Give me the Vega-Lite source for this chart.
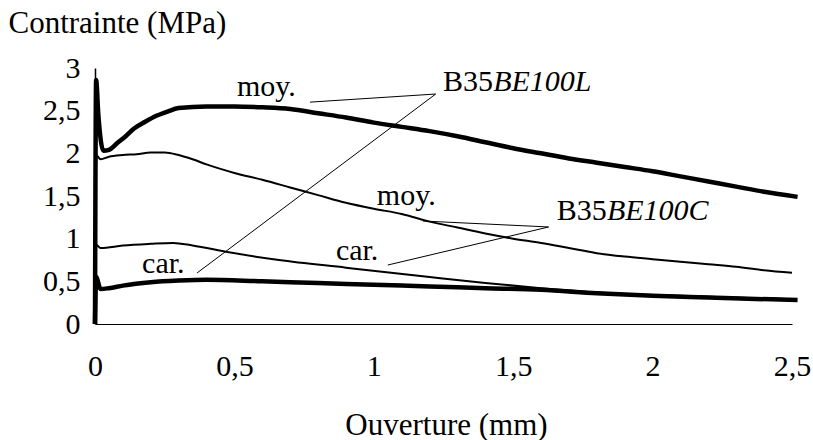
{
  "$schema": "https://vega.github.io/schema/vega-lite/v6.json",
  "width": 697,
  "height": 256,
  "autosize": {"type": "none"},
  "padding": {"left": 95, "top": 68, "right": 21, "bottom": 116},
  "background": "white",
  "config": {
    "font": "'Liberation Serif', 'Times New Roman', serif",
    "view": {"stroke": null},
    "axis": {"grid": false, "ticks": false, "domainColor": "black", "domainWidth": 1.5, "labelColor": "black", "titleColor": "black", "labelFontSize": 30, "titleFontSize": 31, "titleFontWeight": "normal", "labelFont": "'Liberation Serif', 'Times New Roman', serif", "titleFont": "'Liberation Serif', 'Times New Roman', serif"}
  },
  "datasets": {
    "curves": [
      {"serie": "L moy", "x": 0, "y": 0},
      {"serie": "L moy", "x": 0.004, "y": 2.86},
      {"serie": "L moy", "x": 0.012, "y": 2.45},
      {"serie": "L moy", "x": 0.03, "y": 2.03},
      {"serie": "L moy", "x": 0.05, "y": 2.04},
      {"serie": "L moy", "x": 0.08, "y": 2.12},
      {"serie": "L moy", "x": 0.11, "y": 2.2},
      {"serie": "L moy", "x": 0.14, "y": 2.29},
      {"serie": "L moy", "x": 0.18, "y": 2.37},
      {"serie": "L moy", "x": 0.22, "y": 2.44},
      {"serie": "L moy", "x": 0.26, "y": 2.49},
      {"serie": "L moy", "x": 0.3, "y": 2.53},
      {"serie": "L moy", "x": 0.4, "y": 2.55},
      {"serie": "L moy", "x": 0.5, "y": 2.55},
      {"serie": "L moy", "x": 0.6, "y": 2.54},
      {"serie": "L moy", "x": 0.7, "y": 2.52},
      {"serie": "L moy", "x": 0.8, "y": 2.47},
      {"serie": "L moy", "x": 0.9, "y": 2.42},
      {"serie": "L moy", "x": 1.0, "y": 2.36},
      {"serie": "L moy", "x": 1.1, "y": 2.31},
      {"serie": "L moy", "x": 1.2, "y": 2.26},
      {"serie": "L moy", "x": 1.3, "y": 2.2},
      {"serie": "L moy", "x": 1.4, "y": 2.13},
      {"serie": "L moy", "x": 1.5, "y": 2.06},
      {"serie": "L moy", "x": 1.6, "y": 2.0},
      {"serie": "L moy", "x": 1.7, "y": 1.94},
      {"serie": "L moy", "x": 1.8, "y": 1.89},
      {"serie": "L moy", "x": 1.9, "y": 1.84},
      {"serie": "L moy", "x": 2.0, "y": 1.79},
      {"serie": "L moy", "x": 2.1, "y": 1.73},
      {"serie": "L moy", "x": 2.2, "y": 1.67},
      {"serie": "L moy", "x": 2.3, "y": 1.61},
      {"serie": "L moy", "x": 2.4, "y": 1.55},
      {"serie": "L moy", "x": 2.52, "y": 1.49},
      {"serie": "L car", "x": 0, "y": 0},
      {"serie": "L car", "x": 0.004, "y": 0.55},
      {"serie": "L car", "x": 0.02, "y": 0.41},
      {"serie": "L car", "x": 0.05, "y": 0.42},
      {"serie": "L car", "x": 0.1, "y": 0.45},
      {"serie": "L car", "x": 0.2, "y": 0.49},
      {"serie": "L car", "x": 0.3, "y": 0.51},
      {"serie": "L car", "x": 0.4, "y": 0.52},
      {"serie": "L car", "x": 0.6, "y": 0.5},
      {"serie": "L car", "x": 0.8, "y": 0.48},
      {"serie": "L car", "x": 1.0, "y": 0.46},
      {"serie": "L car", "x": 1.2, "y": 0.44},
      {"serie": "L car", "x": 1.4, "y": 0.42},
      {"serie": "L car", "x": 1.6, "y": 0.4},
      {"serie": "L car", "x": 1.8, "y": 0.36},
      {"serie": "L car", "x": 2.0, "y": 0.33},
      {"serie": "L car", "x": 2.2, "y": 0.31},
      {"serie": "L car", "x": 2.52, "y": 0.28},
      {"serie": "C moy", "x": 0, "y": 0},
      {"serie": "C moy", "x": 0.004, "y": 1.98},
      {"serie": "C moy", "x": 0.02, "y": 1.93},
      {"serie": "C moy", "x": 0.05, "y": 1.96},
      {"serie": "C moy", "x": 0.1, "y": 1.98},
      {"serie": "C moy", "x": 0.15, "y": 1.99},
      {"serie": "C moy", "x": 0.2, "y": 2.01},
      {"serie": "C moy", "x": 0.25, "y": 2.01},
      {"serie": "C moy", "x": 0.3, "y": 1.98},
      {"serie": "C moy", "x": 0.35, "y": 1.93},
      {"serie": "C moy", "x": 0.4, "y": 1.87},
      {"serie": "C moy", "x": 0.5, "y": 1.77},
      {"serie": "C moy", "x": 0.6, "y": 1.69},
      {"serie": "C moy", "x": 0.7, "y": 1.6},
      {"serie": "C moy", "x": 0.8, "y": 1.51},
      {"serie": "C moy", "x": 0.9, "y": 1.42},
      {"serie": "C moy", "x": 1.0, "y": 1.35},
      {"serie": "C moy", "x": 1.1, "y": 1.29},
      {"serie": "C moy", "x": 1.2, "y": 1.2},
      {"serie": "C moy", "x": 1.3, "y": 1.13},
      {"serie": "C moy", "x": 1.4, "y": 1.06},
      {"serie": "C moy", "x": 1.5, "y": 1.0},
      {"serie": "C moy", "x": 1.6, "y": 0.95},
      {"serie": "C moy", "x": 1.7, "y": 0.89},
      {"serie": "C moy", "x": 1.8, "y": 0.83},
      {"serie": "C moy", "x": 1.9, "y": 0.79},
      {"serie": "C moy", "x": 2.0, "y": 0.76},
      {"serie": "C moy", "x": 2.1, "y": 0.73},
      {"serie": "C moy", "x": 2.2, "y": 0.7},
      {"serie": "C moy", "x": 2.3, "y": 0.67},
      {"serie": "C moy", "x": 2.4, "y": 0.63},
      {"serie": "C moy", "x": 2.5, "y": 0.6},
      {"serie": "C car", "x": 0, "y": 0},
      {"serie": "C car", "x": 0.004, "y": 0.93},
      {"serie": "C car", "x": 0.02, "y": 0.89},
      {"serie": "C car", "x": 0.1, "y": 0.92},
      {"serie": "C car", "x": 0.2, "y": 0.94},
      {"serie": "C car", "x": 0.28, "y": 0.95},
      {"serie": "C car", "x": 0.35, "y": 0.92},
      {"serie": "C car", "x": 0.48, "y": 0.84},
      {"serie": "C car", "x": 0.66, "y": 0.75},
      {"serie": "C car", "x": 0.9, "y": 0.66},
      {"serie": "C car", "x": 1.2, "y": 0.55},
      {"serie": "C car", "x": 1.4, "y": 0.48},
      {"serie": "C car", "x": 1.6, "y": 0.42},
      {"serie": "C car", "x": 1.8, "y": 0.37},
      {"serie": "C car", "x": 2.0, "y": 0.34},
      {"serie": "C car", "x": 2.2, "y": 0.32},
      {"serie": "C car", "x": 2.5, "y": 0.29}
    ],
    "leaders": [
      {"x": 0.771, "y": 2.6, "x2": 1.222, "y2": 2.695},
      {"x": 0.366, "y": 0.598, "x2": 1.222, "y2": 2.695},
      {"x": 1.176, "y": 1.207, "x2": 1.627, "y2": 1.137},
      {"x": 1.05, "y": 0.691, "x2": 1.627, "y2": 1.137}
    ],
    "notes": [
      {"label": "moy.", "x": 0.509, "y": 2.672},
      {"label": "moy.", "x": 1.011, "y": 1.395},
      {"label": "car.", "x": 0.169, "y": 0.598},
      {"label": "car.", "x": 0.864, "y": 0.75}
    ],
    "heads": [
      {"label": "B35", "x": 1.428, "y": 2.731},
      {"label": "B35", "x": 1.836, "y": 1.219}
    ],
    "codes": [
      {"label": "BE100L", "x": 1.428, "y": 2.731},
      {"label": "BE100C", "x": 1.836, "y": 1.219}
    ]
  },
  "layer": [
    {
      "data": {"name": "curves"},
      "transform": [{"filter": "datum.serie === 'L moy' || datum.serie === 'L car'"}],
      "mark": {"type": "line", "color": "black", "strokeWidth": 4.5, "interpolate": "monotone", "strokeJoin": "round"},
      "encoding": {
        "x": {"field": "x", "type": "quantitative", "scale": {"domain": [0, 2.5], "nice": false, "zero": false},
          "axis": {"values": [0, 0.5, 1, 1.5, 2, 2.5], "labelExpr": "replace(format(datum.value, '~g'), '.', ',')", "labelBaseline": "alphabetic", "labelPadding": 51, "labelFlush": false, "labelOverlap": false, "title": "Ouverture (mm)", "titleX": 351, "titleY": 110, "titleAlign": "center", "titleBaseline": "alphabetic", "domainWidth": 1.2}},
        "y": {"field": "y", "type": "quantitative", "scale": {"domain": [0, 3], "nice": false},
          "axis": {"values": [0, 0.5, 1, 1.5, 2, 2.5, 3], "labelExpr": "replace(format(datum.value, '~g'), '.', ',')", "labelBaseline": "middle", "labelPadding": 15, "labelFlush": false, "labelOverlap": false, "title": "Contrainte (MPa)", "titleAngle": 0, "titleX": -87, "titleY": -36, "titleAlign": "left", "titleBaseline": "alphabetic"}},
        "detail": {"field": "serie"}
      }
    },
    {
      "data": {"name": "curves"},
      "transform": [{"filter": "datum.serie === 'C moy' || datum.serie === 'C car'"}],
      "mark": {"type": "line", "color": "black", "strokeWidth": 2, "interpolate": "monotone"},
      "encoding": {
        "x": {"field": "x", "type": "quantitative"},
        "y": {"field": "y", "type": "quantitative"},
        "detail": {"field": "serie"}
      }
    },
    {
      "data": {"name": "leaders"},
      "mark": {"type": "rule", "color": "black", "strokeWidth": 1},
      "encoding": {
        "x": {"field": "x", "type": "quantitative"},
        "y": {"field": "y", "type": "quantitative"},
        "x2": {"field": "x2"},
        "y2": {"field": "y2"}
      }
    },
    {
      "data": {"name": "notes"},
      "mark": {"type": "text", "align": "left", "baseline": "alphabetic", "fontSize": 30, "color": "black"},
      "encoding": {
        "x": {"field": "x", "type": "quantitative"},
        "y": {"field": "y", "type": "quantitative"},
        "text": {"field": "label"}
      }
    },
    {
      "data": {"name": "heads"},
      "mark": {"type": "text", "align": "right", "baseline": "alphabetic", "fontSize": 30, "color": "black"},
      "encoding": {
        "x": {"field": "x", "type": "quantitative"},
        "y": {"field": "y", "type": "quantitative"},
        "text": {"field": "label"}
      }
    },
    {
      "data": {"name": "codes"},
      "mark": {"type": "text", "align": "left", "baseline": "alphabetic", "fontSize": 30, "fontStyle": "italic", "color": "black"},
      "encoding": {
        "x": {"field": "x", "type": "quantitative"},
        "y": {"field": "y", "type": "quantitative"},
        "text": {"field": "label"}
      }
    }
  ]
}
